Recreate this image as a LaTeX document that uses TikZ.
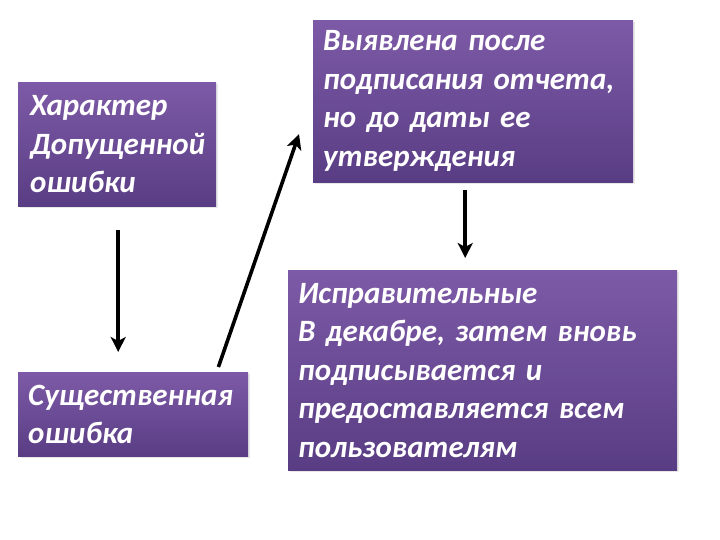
\documentclass[tikz,border=0pt]{standalone}
\usepackage{fontspec}
\setmainfont{Carlito}
\usetikzlibrary{arrows.meta,shadows}
\definecolor{ptop}{HTML}{7D5AA7}
\definecolor{pbot}{HTML}{593D84}
\tikzset{
  pbox/.style={draw=none, top color=ptop, bottom color=pbot, anchor=north west,
    align=left, text=white, inner xsep=0pt, inner ysep=0pt,
    font=\fontsize{31}{38.5}\selectfont\bfseries\itshape,
    drop shadow={opacity=0.18, shadow xshift=2pt, shadow yshift=-2pt}},
  arr/.style={line width=3.6pt, -{Stealth[length=15pt,width=15pt,inset=4pt]}}
}
\begin{document}
\begin{tikzpicture}[x=1pt,y=-1pt]
\useasboundingbox (0,0) rectangle (720,540);
\node[pbox, minimum width=198pt, minimum height=124pt, text width=186pt, inner xsep=6pt] (A) at (18,82) {\hspace*{6pt}Характер\\\hspace*{6pt}Допущенной\\\hspace*{6pt}ошибки};
\node[pbox, minimum width=320pt, minimum height=162pt, text width=310pt, inner xsep=5pt] (B) at (313,20) {\hspace*{5pt}Выявлена после\\\hspace*{5pt}подписания отчета,\\\hspace*{5pt}но до даты ее\\\hspace*{5pt}утверждения};
\node[pbox, minimum width=230pt, minimum height=84pt, text width=220pt, inner xsep=5pt] (C) at (18,372) {\hspace*{5pt}Существенная\\\hspace*{5pt}ошибка};
\node[pbox, minimum width=389pt, minimum height=200pt, text width=379pt, inner xsep=5pt] (D) at (288,270) {\hspace*{5pt}Исправительные\\\hspace*{5pt}В декабре, затем вновь\\\hspace*{5pt}подписывается и\\\hspace*{5pt}предоставляется всем\\\hspace*{5pt}пользователям};
\draw[arr, shorten <=24pt, shorten >=20pt] ([xshift=1pt]A.south) -- ([xshift=1pt]A.south |- C.north);
\draw[arr] ([xshift=-30pt,yshift=5pt]C.north east) -- ([xshift=-14pt,yshift=-33pt]B.west);
\draw[arr, shorten <=8pt, shorten >=12pt] ([xshift=-8pt]B.south) -- ([xshift=-8pt]B.south |- D.north);
\end{tikzpicture}
\end{document}
